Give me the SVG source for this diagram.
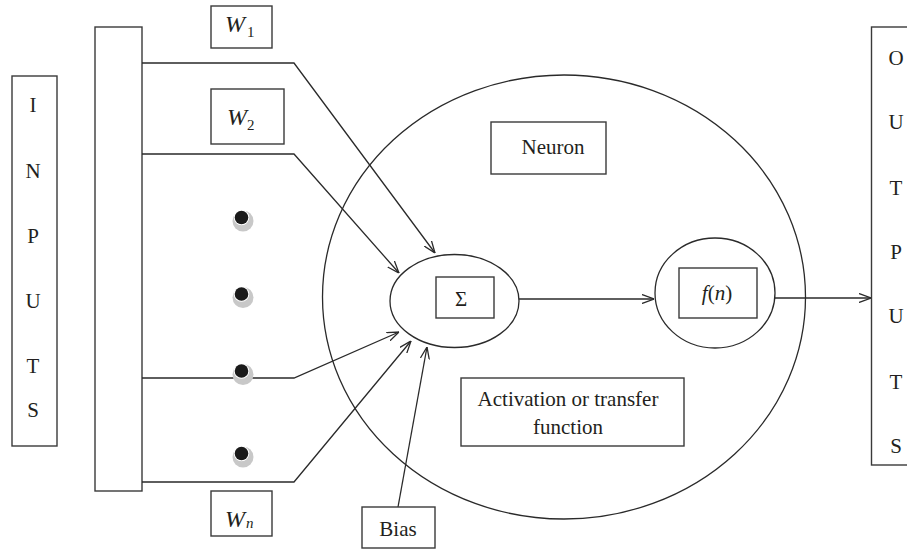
<svg xmlns="http://www.w3.org/2000/svg" width="907" height="549" viewBox="0 0 907 549">
<style>
.box{fill:#fff;stroke:#3a3a3a;stroke-width:1.4}
.ln{fill:none;stroke:#2a2a2a;stroke-width:1.3}
.t{font-family:"Liberation Serif","Times New Roman",serif;font-size:21px;fill:#231f20}
.c{text-anchor:middle}
.it{font-style:italic}
.w{font-size:24px}
.sub{font-size:15px}
.dg{fill:#c8c8c8}
.dw{fill:#fff}
.db{fill:#1a1a1a}
</style>
<defs>
<marker id="arr" viewBox="0 0 12 10" refX="12" refY="5" markerWidth="12" markerHeight="10" markerUnits="userSpaceOnUse" orient="auto">
<path d="M0,0.5 L12,5 L0,9.5" fill="none" stroke="#2a2a2a" stroke-width="1.3"/>
</marker>
<g id="dot">
<circle class="dg" cx="1.5" cy="3.5" r="10.5"/>
<circle class="dw" cx="0" cy="0" r="7.8"/>
<circle class="db" cx="0" cy="0" r="6.8"/>
</g>
</defs>
<rect width="907" height="549" fill="#fff"/>

<g id="neuron">
<ellipse class="ln" cx="564" cy="297" rx="241.5" ry="222"/>
</g>

<g id="inputs">
<rect class="box" x="12" y="76" width="45" height="370"/>
<text class="t c" x="33" y="112">I</text>
<text class="t c" x="33" y="178">N</text>
<text class="t c" x="33" y="243">P</text>
<text class="t c" x="33" y="308">U</text>
<text class="t c" x="33" y="373">T</text>
<text class="t c" x="33" y="417">S</text>
</g>

<g id="input-bar">
<rect class="box" x="95" y="27" width="47" height="464"/>
</g>

<g id="w1">
<rect class="box" x="211" y="6" width="61" height="42"/>
<text class="t it w" x="225" y="32">W</text>
<text class="t sub" x="247" y="37">1</text>
</g>
<g id="w2">
<rect class="box" x="211" y="89" width="73" height="55"/>
<text class="t it w" x="227" y="125">W</text>
<text class="t sub" x="247" y="130">2</text>
</g>
<g id="wn">
<rect class="box" x="211" y="491" width="61" height="45"/>
<text class="t it w" x="225" y="527">W</text>
<text class="t it sub" x="246" y="528">n</text>
</g>

<g id="connectors">
<polyline class="ln" points="142,63 294,63 435,253" marker-end="url(#arr)"/>
<polyline class="ln" points="142,154 294,154 399,273" marker-end="url(#arr)"/>
<polyline class="ln" points="142,378 294,378 399,332" marker-end="url(#arr)"/>
<polyline class="ln" points="142,482 294,482 411,341" marker-end="url(#arr)"/>
<line class="ln" x1="398" y1="507" x2="427" y2="347" marker-end="url(#arr)"/>
<line class="ln" x1="519" y1="299" x2="654" y2="299" marker-end="url(#arr)"/>
<line class="ln" x1="775" y1="298" x2="871" y2="298" marker-end="url(#arr)"/>
</g>

<g id="dots">
<use href="#dot" x="241.5" y="217.5"/>
<use href="#dot" x="241.5" y="294"/>
<use href="#dot" x="241.5" y="371"/>
<use href="#dot" x="241.5" y="453.5"/>
</g>

<g id="sum">
<ellipse class="ln" cx="454.5" cy="301" rx="64.5" ry="46.5"/>
<rect class="box" x="436" y="277" width="58" height="41"/>
<text class="t c" x="461" y="306">Σ</text>
</g>

<g id="activation">
<ellipse class="ln" cx="715" cy="293" rx="60" ry="55"/>
<rect class="box" x="679" y="268" width="78" height="50"/>
<text class="t c" x="717" y="300"><tspan class="it">f</tspan>(<tspan class="it">n</tspan>)</text>
</g>

<g id="neuron-label">
<rect class="box" x="491" y="122" width="115" height="52"/>
<text class="t c" x="553" y="154">Neuron</text>
</g>

<g id="activation-label">
<rect class="box" x="461" y="378" width="223" height="68"/>
<text class="t c" x="568" y="406">Activation or transfer</text>
<text class="t c" x="568" y="434">function</text>
</g>

<g id="bias">
<rect class="box" x="362" y="507" width="73" height="41"/>
<text class="t c" x="398" y="536">Bias</text>
</g>

<g id="outputs">
<rect class="box" x="871.5" y="27" width="45" height="438"/>
<text class="t c" x="896" y="65">O</text>
<text class="t c" x="896" y="129">U</text>
<text class="t c" x="896" y="195">T</text>
<text class="t c" x="896" y="259">P</text>
<text class="t c" x="896" y="323">U</text>
<text class="t c" x="896" y="389">T</text>
<text class="t c" x="896" y="453">S</text>
</g>
</svg>
